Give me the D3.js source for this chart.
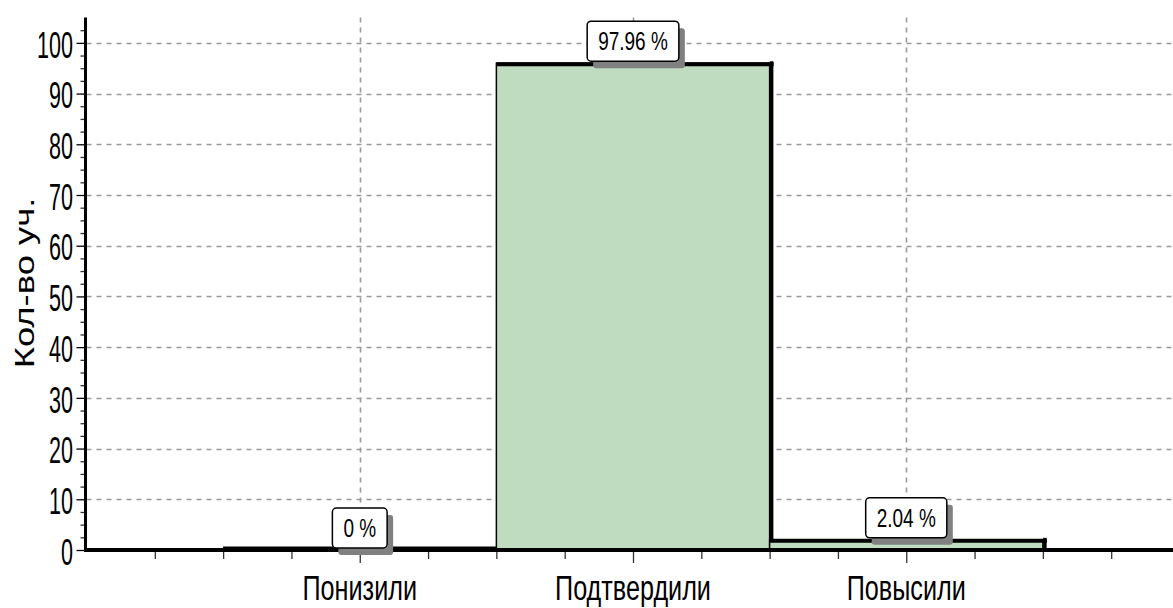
<!DOCTYPE html>
<html>
<head>
<meta charset="utf-8">
<script src="https://cdn.jsdelivr.net/npm/d3@7"></script>
<style>
  html, body { margin: 0; padding: 0; background: #fff; }
  svg { display: block; }
  text { font-family: "Liberation Sans", Arial, sans-serif; fill: #000; }
</style>
</head>
<body>
<svg id="chart" width="1173" height="608"></svg>
<script>
// ---- data ----
const categories = ["Понизили", "Подтвердили", "Повысили"];
const counts = [0, 96, 2];
const percentLabels = ["0 %", "97.96 %", "2.04 %"];
const yTicks = [0, 10, 20, 30, 40, 50, 60, 70, 80, 90, 100];
const yTitle = "Кол-во уч.";

const W = 1173, H = 608;
const svg = d3.select("#chart");

const x = d3.scaleLinear().domain([-1, 3]).range([86.5, 1179.5]);
const y = d3.scaleLinear().domain([0, 105]).range([550, 17.5]);

const gridColor = "#9a9a9a";

// helper: stretched text
function stext(parent, px, py, str, size, sx, sy, anchor, rot) {
  const g = parent.append("g")
    .attr("transform", `translate(${px},${py})` + (rot ? ` rotate(${rot})` : "") + ` scale(${sx},${sy})`);
  const t = g.append("text")
    .attr("text-anchor", anchor)
    .attr("dy", "0.35em")
    .style("font-size", size + "px")
    .text(str);
  return t;
}

// ---- grid ----
const grid = svg.append("g");
grid.selectAll("line.h").data(yTicks.filter(d => d > 0)).join("line")
  .attr("x1", x(-1)).attr("x2", W)
  .attr("y1", d => Math.round(y(d)) + 0.5).attr("y2", d => Math.round(y(d)) + 0.5)
  .attr("stroke", gridColor).attr("stroke-width", 1.6).attr("stroke-dasharray", "5,5");
grid.selectAll("line.v").data(categories.map((c, i) => i)).join("line")
  .attr("x1", d => Math.round(x(d)) + 0.5).attr("x2", d => Math.round(x(d)) + 0.5)
  .attr("y1", y(105)).attr("y2", y(0))
  .attr("stroke", gridColor).attr("stroke-width", 1.6).attr("stroke-dasharray", "5,5");

// ---- bars ----
const bars = svg.append("g");
categories.forEach((c, i) => {
  const x0 = x(i - 0.5), x1 = x(i + 0.5), yt = y(counts[i]), yb = y(0);
  if (counts[i] > 0) {
    bars.append("rect")
      .attr("x", x0).attr("y", yt).attr("width", x1 - x0).attr("height", yb - yt)
      .attr("fill", "#c0dcc0").attr("stroke", "#000").attr("stroke-width", 1.5);
    bars.append("line").attr("x1", x1 + 2).attr("x2", x1 + 2).attr("y1", yt - 2).attr("y2", yb)
      .attr("stroke", "#000").attr("stroke-width", 3.5);
  }
  bars.append("line").attr("x1", x0).attr("x2", x1 + 4).attr("y1", yt + (counts[i] > 0 ? 1 : -1.5)).attr("y2", yt + (counts[i] > 0 ? 1 : -1.5))
    .attr("stroke", "#000").attr("stroke-width", 4);
});

// ---- axes ----
const yAxisMajor = d3.axisLeft(y).tickValues(yTicks).tickSize(9).tickFormat("");
const gy = svg.append("g").attr("transform", `translate(${x(-1) - 1},0)`).call(yAxisMajor);
gy.select(".domain").remove();
gy.selectAll(".tick line").attr("stroke", "#000").attr("stroke-width", 1.3);

const minorY = d3.range(0, 105, 2.5).filter(v => v % 10 !== 0);
const yAxisMinor = d3.axisLeft(y).tickValues(minorY).tickSize(4).tickFormat("");
const gym = svg.append("g").attr("transform", `translate(${x(-1) - 2},0)`).call(yAxisMinor);
gym.select(".domain").remove();
gym.selectAll(".tick line").attr("stroke", "#333").attr("stroke-width", 1.3);

const minorX = d3.range(-0.75, 3, 0.25).filter(v => Math.abs(v - Math.round(v)) > 0.01);
const xAxisMinor = d3.axisBottom(x).tickValues(minorX).tickSize(9).tickFormat("");
const gxm = svg.append("g").attr("transform", `translate(0,${y(0)})`).call(xAxisMinor);
gxm.select(".domain").remove();
gxm.selectAll(".tick line").attr("stroke", "#333").attr("stroke-width", 1.3);

const xAxisMajor = d3.axisBottom(x).tickValues(categories.map((c, i) => i)).tickSize(13).tickFormat("");
const gxa = svg.append("g").attr("transform", `translate(0,${y(0)})`).call(xAxisMajor);
gxa.select(".domain").remove();
gxa.selectAll(".tick line").attr("stroke", "#333").attr("stroke-width", 1.3);

// axis lines
svg.append("line").attr("x1", x(-1) - 2).attr("x2", W).attr("y1", y(0)).attr("y2", y(0))
  .attr("stroke", "#000").attr("stroke-width", 4);
svg.append("line").attr("x1", x(-1) - 1).attr("x2", x(-1) - 1).attr("y1", y(105)).attr("y2", y(0) + 2)
  .attr("stroke", "#000").attr("stroke-width", 3);

// tick labels
yTicks.forEach(v => {
  stext(svg, 73, y(v) + 1.5, String(v), 22, 0.98, 1.72, "end");
});

// category labels
categories.forEach((c, i) => {
  stext(svg, x(i), 587, c, 24, 1.05, 1.5, "middle");
});

// y title
stext(svg, 24, 283, yTitle, 28, 1.3, 1, "middle", -90);

// ---- value labels ----
const lab = svg.append("g");
categories.forEach((c, i) => {
  const cx = x(i);
  const bottom = y(counts[i]) - 2;
  const boxH = 40;
  const g = lab.append("g");
  const shadow = g.append("rect");
  const box = g.append("rect");
  const t = stext(g, cx, bottom - boxH / 2, percentLabels[i], 19, 1, 1.32, "middle");
  const tw = t.node().getComputedTextLength();
  const bw = tw + 22;
  shadow.attr("x", cx - bw / 2 + 6).attr("y", bottom - boxH + 7).attr("width", bw).attr("height", boxH)
    .attr("rx", 3).attr("fill", "#808080");
  box.attr("x", cx - bw / 2).attr("y", bottom - boxH).attr("width", bw).attr("height", boxH)
    .attr("rx", 4).attr("fill", "#fff").attr("stroke", "#000").attr("stroke-width", 1.5);
});
</script>
</body>
</html>
